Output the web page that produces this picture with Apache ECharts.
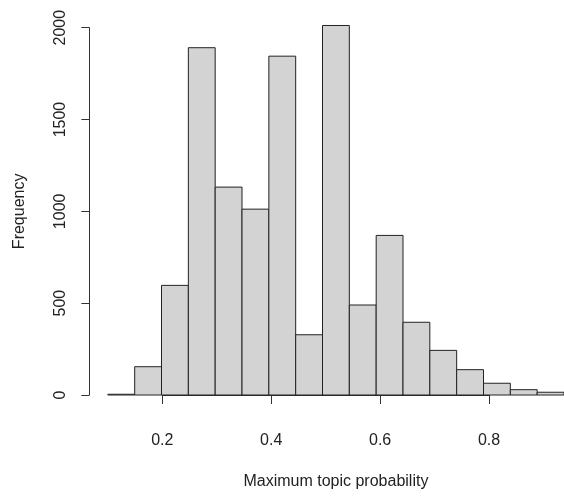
<!DOCTYPE html>
<html><head><meta charset="utf-8">
<script src="https://cdn.jsdelivr.net/npm/echarts@6/dist/echarts.min.js"></script>
<style>html,body{margin:0;padding:0;background:#fff;}#c{width:564px;height:498px;}</style>
</head><body><div id="c"></div>
<script>
var binEdges = [0.10,0.15,0.20,0.25,0.30,0.35,0.40,0.45,0.50,0.55,0.60,0.65,0.70,0.75,0.80,0.85,0.90,0.95];
var counts = [4,154,597,1891,1132,1012,1845,328,2012,490,869,396,243,138,64,29,15];
var xTicks = [0.2,0.4,0.6,0.8];
var yTicks = [0,500,1000,1500,2000];
var xTitle = 'Maximum topic probability';
var yTitle = 'Frequency';

var data = counts.map(function(c,i){return [binEdges[i], binEdges[i+1], c];});
var FONT = 'Liberation Sans, Arial, sans-serif';
var TXT = '#222';
var chart = echarts.init(document.getElementById('c'), null, {renderer:'canvas'});
chart.setOption({
  animation:false,
  backgroundColor:'#fff',
  grid:[
    {left:107.85, top:27.7, width:462.8, height:367.3},
    {left:162.3, top:27.7, width:326.7, height:367.3}
  ],
  xAxis:[
    {gridIndex:0, type:'value', min:binEdges[0], max:binEdges[binEdges.length-1],
     axisLine:{show:false}, axisTick:{show:false}, axisLabel:{show:false}, splitLine:{show:false},
     name:xTitle, nameLocation:'middle', nameGap:79,
     nameTextStyle:{fontFamily:FONT, fontSize:16, color:TXT}},
    {gridIndex:1, type:'value', min:xTicks[0], max:xTicks[xTicks.length-1], interval:0.2, offset:15,
     axisLine:{show:true, lineStyle:{color:'#333', width:1}},
     axisTick:{show:true, length:9, lineStyle:{color:'#333'}},
     axisLabel:{margin:23, fontFamily:FONT, fontSize:16, color:TXT,
       formatter:function(v){return v.toFixed(1);}},
     splitLine:{show:false}}
  ],
  yAxis:[
    {gridIndex:0, type:'value', min:yTicks[0], max:yTicks[yTicks.length-1], interval:500, offset:18.5,
     axisLine:{show:true, lineStyle:{color:'#333', width:1}},
     axisTick:{show:true, length:8, lineStyle:{color:'#333'}},
     axisLabel:{rotate:90, margin:21, fontFamily:FONT, fontSize:16, color:TXT,
       formatter:function(v){return String(v);}},
     splitLine:{show:false},
     name:yTitle, nameLocation:'middle', nameGap:62, nameRotate:90,
     nameTextStyle:{fontFamily:FONT, fontSize:16, color:TXT}},
    {gridIndex:1, type:'value', min:0, max:2000, show:false}
  ],
  series:[{
    type:'custom', xAxisIndex:0, yAxisIndex:0, clip:false,
    data:data,
    encode:{x:[0,1], y:2},
    renderItem:function(params, api){
      var p0 = api.coord([api.value(0), 0]);
      var p1 = api.coord([api.value(1), api.value(2)]);
      return {type:'rect',
        shape:{x:p0[0], y:p1[1], width:p1[0]-p0[0], height:p0[1]-p1[1]},
        style:{fill:'#D3D3D3', stroke:'#222', lineWidth:1}};
    }
  }]
});
</script></body></html>
